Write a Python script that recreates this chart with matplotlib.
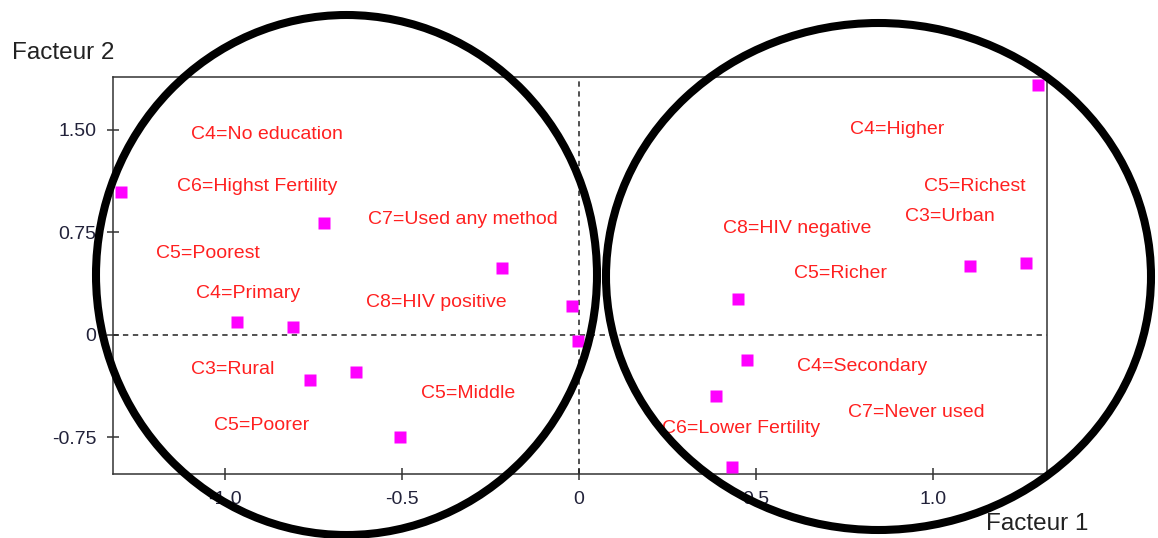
import matplotlib.pyplot as plt
from matplotlib.patches import Ellipse

# --- points (Facteur 1, Facteur 2) ---
pt_x = [1.297, -1.294, -0.720, -0.218, -0.020, -0.003, -0.966, -0.808, -0.760,
        -0.630, -0.506, 0.449, 0.475, 0.387, 0.432, 1.105, 1.263]
pt_y = [1.829, 1.046, 0.819, 0.490, 0.212, -0.044, 0.095, 0.059, -0.329,
        -0.271, -0.746, 0.263, -0.183, -0.446, -0.966, 0.505, 0.527]

# --- modality labels ---
labels = ['C4=No education', 'C6=Highst Fertility', 'C7=Used any method',
          'C5=Poorest', 'C4=Primary', 'C8=HIV positive', 'C3=Rural',
          'C5=Middle', 'C5=Poorer', 'C4=Higher', 'C5=Richest', 'C3=Urban',
          'C8=HIV negative', 'C5=Richer', 'C4=Secondary', 'C7=Never used',
          'C6=Lower Fertility']
lab_x = [-0.881, -0.910, -0.328, -1.048, -0.935, -0.404, -0.977, -0.314, -0.895,
         0.898, 1.119, 1.048, 0.616, 0.740, 0.799, 0.952, 0.458]
lab_y = [1.478, 1.097, 0.856, 0.614, 0.315, 0.249, -0.241, -0.417, -0.651,
         1.514, 1.097, 0.878, 0.790, 0.461, -0.219, -0.549, -0.666]

xticks = [-1.0, -0.5, 0, 0.5, 1.0]
xtick_labels = ['-1.0', '-0.5', '0', '0.5', '1.0']
yticks = [-0.75, 0, 0.75, 1.50]
ytick_labels = ['-0.75', '0', '0.75', '1.50']

W, H = 1158, 538
fig = plt.figure(figsize=(W / 100, H / 100), dpi=100)
plt.rcParams['font.family'] = ['Liberation Sans', 'DejaVu Sans']

ax = fig.add_axes([113 / W, (H - 474) / H, (1047 - 113) / W, (474 - 77) / H])
ax.set_xlim(-1.316, 1.322)
ax.set_ylim(-1.017, 1.887)

ax.axhline(0, color='#222222', lw=1.1, ls=(0, (3.5, 3)))
ax.axvline(0, color='#222222', lw=1.1, ls=(0, (3.5, 3)))

ax.plot(pt_x, pt_y, 's', color='#ff00ff', ms=8, mec='none', zorder=3)
for t, x, y in zip(labels, lab_x, lab_y):
    ax.text(x, y, t, color='#ff2020', fontsize=14, ha='center',
            va='center_baseline')

ax.set_xticks(xticks)
ax.set_xticklabels(xtick_labels)
ax.set_yticks(yticks)
ax.set_yticklabels(ytick_labels)
ax.tick_params(direction='inout', length=8, width=1.1, color='#333333',
               labelsize=14, labelcolor='#22223a', pad=8)
for s in ax.spines.values():
    s.set_color('#333333')
    s.set_linewidth(1.1)

fig.text(12 / W, 1 - 53 / H, 'Facteur 2', fontsize=17.5, color='#222222',
         ha='left', va='center')
fig.text(986 / W, 1 - 524 / H, 'Facteur 1', fontsize=17.5, color='#222222',
         ha='left', va='center')

# two big hand-drawn-like ellipses over the chart (figure pixel coords)
for cx, cy, w, h in [(346.5, 275, 501, 520), (878.5, 276.5, 545, 507)]:
    e = Ellipse((cx / W, 1 - cy / H), w / W, h / H, transform=fig.transFigure,
                fill=False, ec='black', lw=5.8, zorder=10)
    fig.add_artist(e)

fig.savefig('out.png', dpi=100)
